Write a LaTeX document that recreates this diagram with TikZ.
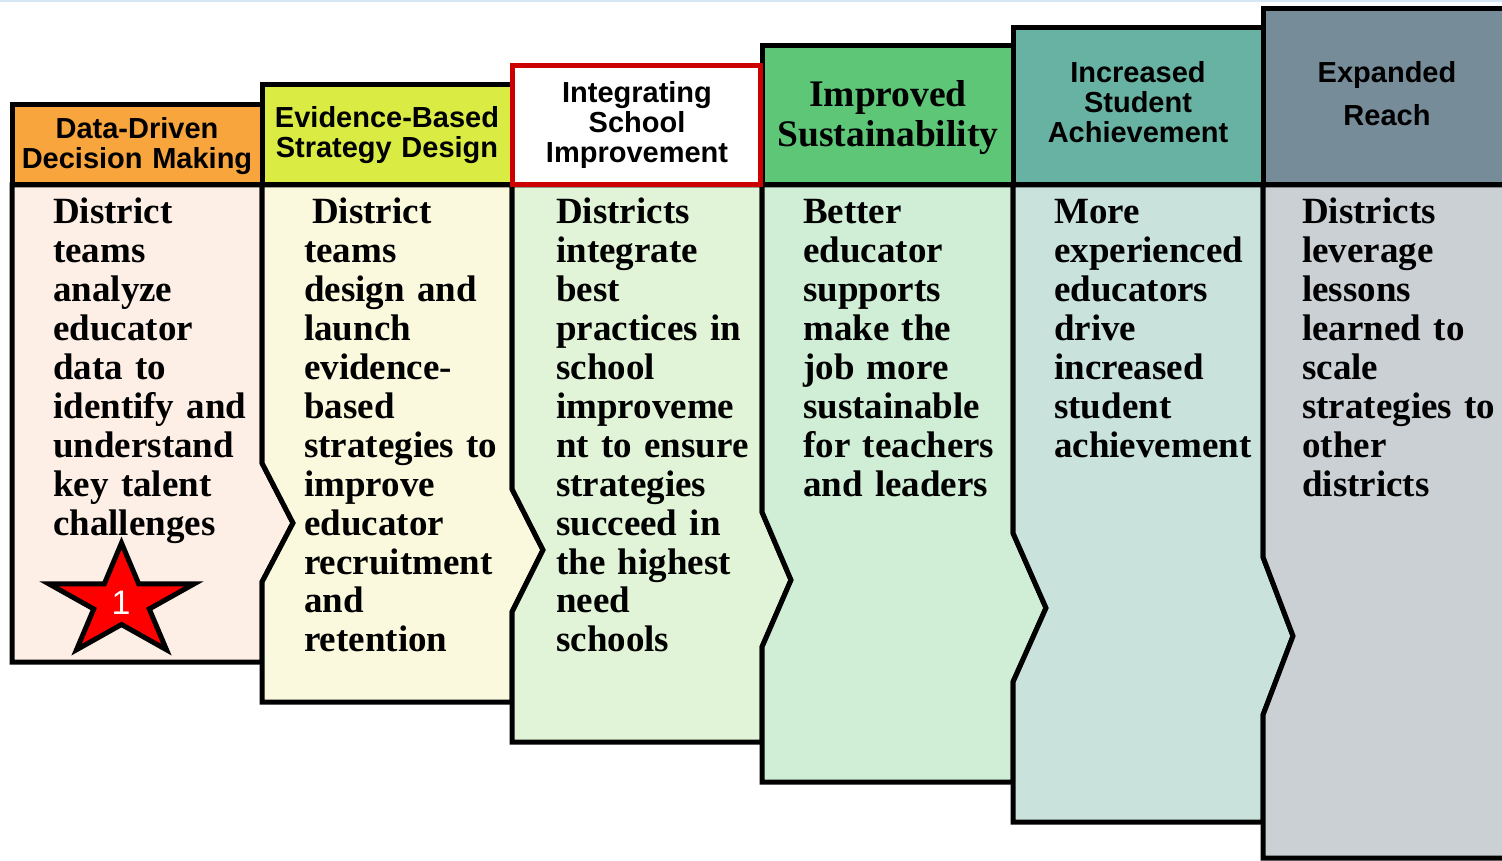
\documentclass[tikz,border=0pt]{standalone}
\usepackage{fontspec}
\setmainfont{Liberation Serif}
\setsansfont{Liberation Sans}
\definecolor{hA}{HTML}{F9A53E}
\definecolor{bA}{HTML}{FDEFE6}
\definecolor{hB}{HTML}{DAEC44}
\definecolor{bB}{HTML}{FAF9DE}
\definecolor{bC}{HTML}{E2F4D8}
\definecolor{hD}{HTML}{5DC777}
\definecolor{bD}{HTML}{D0EDD6}
\definecolor{hE}{HTML}{68B2A3}
\definecolor{bE}{HTML}{C9E2DC}
\definecolor{hF}{HTML}{778C99}
\definecolor{bF}{HTML}{CBD0D4}
\definecolor{redline}{HTML}{CC0000}
\definecolor{topline}{HTML}{D5E6F5}
\tikzset{
  outline/.style={draw=black, line width=5pt},
  bodytext/.style={anchor=base west, inner sep=0pt, text width=250pt, align=left,
    font=\bfseries\fontsize{37}{38.9}\selectfont},
  headtext/.style={anchor=base, inner sep=0pt, text width=250pt, align=center,
    font=\sffamily\bfseries\fontsize{29}{30}\selectfont},
}
\begin{document}
\begin{tikzpicture}[x=1pt,y=-1pt]
\useasboundingbox (0,0) rectangle (1502,861);
\clip (0,0) rectangle (1502,861);
\fill[topline] (0,0) rectangle (1502,2.5);

% column 1
\draw[outline, fill=bA] (12,185) -- (262,185) -- (262,463) -- (293,523) -- (262,582) -- (262,662) -- (12,662) -- cycle;
\draw[outline, fill=hA] (12,105) rectangle (262,185);
% column 2
\draw[outline, fill=bB] (262,185) -- (512,185) -- (512,489) -- (543,550) -- (512,612) -- (512,702) -- (262,702) -- (262,582) -- (293,523) -- (262,463) -- cycle;
\draw[outline, fill=hB] (262,85) rectangle (512,185);
% column 3
\draw[outline, fill=bC] (512,185) -- (762,185) -- (762,512) -- (791,580) -- (762,647) -- (762,742) -- (512,742) -- (512,612) -- (543,550) -- (512,489) -- cycle;
% column 4
\draw[outline, fill=bD] (762,185) -- (1013,185) -- (1013,533) -- (1046,608) -- (1013,682) -- (1013,782) -- (762,782) -- (762,647) -- (791,580) -- (762,512) -- cycle;
\draw[outline, fill=hD] (762,46) rectangle (1013,185);
% column 5
\draw[outline, fill=bE] (1013,185) -- (1263,185) -- (1263,557) -- (1293,636) -- (1263,715) -- (1263,822) -- (1013,822) -- (1013,682) -- (1046,608) -- (1013,533) -- cycle;
\draw[outline, fill=hE] (1013,28) rectangle (1263,185);
% column 6
\draw[outline, fill=bF] (1263,185) -- (1513,185) -- (1513,858) -- (1263,858) -- (1263,715) -- (1293,636) -- (1263,557) -- cycle;
\draw[outline, fill=hF] (1263,9) rectangle (1513,185);
% column 3 header (red frame)
\draw[draw=redline, line width=5pt, fill=white] (512.5,65.5) rectangle (760,185);

% header texts
\node[headtext] (hone) at (137,139) {Data-Driven\\Decision Making};
\node[headtext] (htwo) at (387,128) {Evidence-Based\\Strategy Design};
\node[headtext] (hthree) at (637,103) {Integrating\\School\\Improvement};
\node[headtext, font=\rmfamily\bfseries\fontsize{37.5}{40}\selectfont] (hfour) at (888,107) {Improved\\Sustainability};
\node[headtext] (hfive) at (1138,83) {Increased\\Student\\Achievement};
\node[headtext, font=\sffamily\bfseries\fontsize{29}{43}\selectfont] (hsix) at (1387,83) {Expanded\\Reach};

% body texts
\node[bodytext] (tone) at (53,224) {District\\teams\\analyze\\educator\\data to\\identify and\\understand\\key talent\\challenges};
\node[bodytext] (ttwo) at (304,224) {\hspace*{8pt}District\\teams\\design and\\launch\\evidence-\\based\\strategies to\\improve\\educator\\recruitment\\and\\retention};
\node[bodytext] (tthree) at (556,224) {Districts\\integrate\\best\\practices in\\school\\improveme\\nt to ensure\\strategies\\succeed in\\the highest\\need\\schools};
\node[bodytext] (tfour) at (803,224) {Better\\educator\\supports\\make the\\job more\\sustainable\\for teachers\\and leaders};
\node[bodytext] (tfive) at (1054,224) {More\\experienced\\educators\\drive\\increased\\student\\achievement};
\node[bodytext] (tsix) at (1302,224) {Districts\\leverage\\lessons\\learned to\\scale\\strategies to\\other\\districts};

% star
\draw[line width=5pt, fill=red, shift={(121.5,602)}]
  (-90:76.5 and 59) -- (-54:29.2 and 22.5) -- (-18:76.5 and 59) -- (18:29.2 and 22.5)
  -- (54:76.5 and 59) -- (90:29.2 and 22.5) -- (126:76.5 and 59) -- (162:29.2 and 22.5)
  -- (198:76.5 and 59) -- (234:29.2 and 22.5) -- cycle;
\node[font=\sffamily\fontsize{34}{34}\selectfont, text=white, inner sep=0pt] (starnum) at (121,603) {1};
\end{tikzpicture}
\end{document}
